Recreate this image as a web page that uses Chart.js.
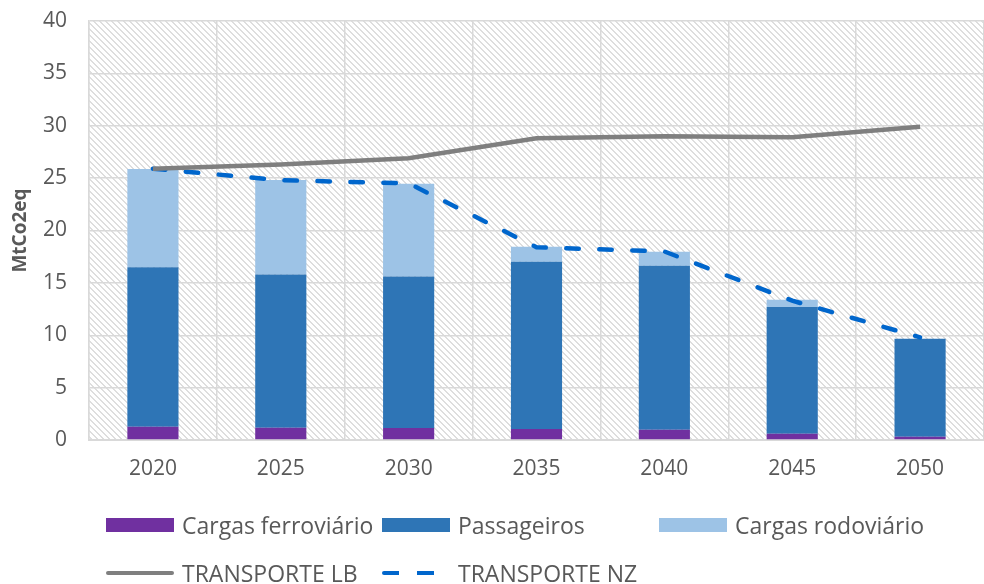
<!DOCTYPE html>
<html lang="pt">
<head>
  <meta charset="UTF-8">
  <title>Emissões transporte</title>
  <script src="https://cdn.jsdelivr.net/npm/chart.js"></script>
  <style>
    body {
      margin: 0;
      background: #ffffff;
      font-family: 'Open Sans', sans-serif;
    }
    .wrap {
      position: relative;
      width: 984px;
      height: 584px;
    }
    .legend {
      position: absolute;
      left: 106px;
      top: 506px;
      display: grid;
      grid-template-columns: 276px 277px 276px;
      row-gap: 10px;
      color: #595959;
      font-size: 23px;
    }
    .legend div {
      display: flex;
      align-items: center;
      height: 38px;
      white-space: nowrap;
    }
    .legend span.sw {
      display: inline-block;
      width: 68px;
      margin-right: 8px;
    }
  </style>
</head>
<body>
<div class="wrap">
  <canvas id="chart" width="984" height="584"></canvas>
  <div class="legend" id="legend"></div>
</div>
<script>
const years = ['2020', '2025', '2030', '2035', '2040', '2045', '2050'];

const cargasFerroviario = [1.27, 1.18, 1.15, 1.05, 0.99, 0.6, 0.3];
const passageiros = [15.21, 14.62, 14.45, 15.97, 15.65, 12.1, 9.37];
const cargasRodoviario = [9.39, 9.02, 8.87, 1.43, 1.34, 0.7, 0];
const transporteLB = [25.9, 26.3, 26.9, 28.8, 29.0, 28.9, 29.9];
const transporteNZ = [25.9, 24.8, 24.5, 18.4, 18.0, 13.3, 9.8];

const yTicks = { min: 0, max: 40, step: 5 };

// hatched background of the plot area
function makeHatch() {
  const c = document.createElement('canvas');
  c.width = 6;
  c.height = 6;
  const g = c.getContext('2d');
  g.fillStyle = '#ffffff';
  g.fillRect(0, 0, 6, 6);
  g.fillStyle = '#dedede';
  for (let y = 0; y < 6; y++) {
    for (let x = 0; x < 6; x++) {
      const d = ((x - y) % 6 + 6) % 6;
      if (d === 0 || d === 1) g.fillRect(x, y, 1, 1);
    }
  }
  return c;
}

const hatchPlugin = {
  id: 'hatch',
  beforeDraw(chart) {
    const { ctx, chartArea } = chart;
    ctx.save();
    ctx.fillStyle = ctx.createPattern(makeHatch(), 'repeat');
    ctx.fillRect(chartArea.left, chartArea.top, chartArea.right - chartArea.left, chartArea.bottom - chartArea.top);
    ctx.restore();
  }
};

const chart = new Chart(document.getElementById('chart'), {
  type: 'bar',
  plugins: [hatchPlugin],
  data: {
    labels: years,
    datasets: [
      {
        type: 'line',
        label: 'TRANSPORTE LB',
        data: transporteLB,
        stack: 'lb',
        order: 0,
        borderColor: '#7f7f7f',
        borderWidth: 4.5,
        pointRadius: 0,
        tension: 0,
        fill: false
      },
      {
        type: 'line',
        label: 'TRANSPORTE NZ',
        data: transporteNZ,
        stack: 'nz',
        order: 0,
        borderColor: '#0066cc',
        borderWidth: 4.5,
        borderDash: [12.5, 20.5],
        borderCapStyle: 'round',
        pointRadius: 0,
        tension: 0,
        fill: false
      },
      {
        label: 'Cargas ferroviário',
        data: cargasFerroviario,
        stack: 'bars',
        order: 1,
        backgroundColor: '#7030a0'
      },
      {
        label: 'Passageiros',
        data: passageiros,
        stack: 'bars',
        order: 1,
        backgroundColor: '#2e75b6'
      },
      {
        label: 'Cargas rodoviário',
        data: cargasRodoviario,
        stack: 'bars',
        order: 1,
        backgroundColor: '#9dc3e6'
      }
    ]
  },
  options: {
    responsive: false,
    animation: false,
    barPercentage: 0.4,
    categoryPercentage: 1,
    layout: {
      padding: { top: 21, right: 0, bottom: 94, left: 0 }
    },
    plugins: {
      legend: { display: false },
      tooltip: { enabled: false }
    },
    scales: {
      x: {
        stacked: true,
        afterFit(scale) { scale.height = 50; },
        grid: { color: '#d9d9d9', lineWidth: 1.5, drawTicks: false, offset: true },
        border: { color: '#d9d9d9', width: 2 },
        ticks: {
          color: '#595959',
          padding: 16,
          font: { family: 'Open Sans', size: 21 }
        }
      },
      y: {
        stacked: true,
        min: yTicks.min,
        max: yTicks.max,
        afterFit(scale) {
          scale.width = 89;
          scale.paddingTop = 0;
          scale.paddingBottom = 0;
        },
        grid: { color: '#d9d9d9', lineWidth: 1.5, drawTicks: false },
        border: { color: '#d9d9d9', width: 1.5 },
        ticks: {
          stepSize: yTicks.step,
          color: '#595959',
          padding: 22,
          font: { family: 'Open Sans', size: 21 }
        },
        title: {
          display: true,
          text: 'MtCo2eq',
          color: '#595959',
          padding: { top: 9, bottom: 0 },
          font: { family: 'Open Sans', size: 19, weight: 'bold' }
        }
      }
    }
  }
});

// legend in the same column grid as the original
const legendOrder = ['Cargas ferroviário', 'Passageiros', 'Cargas rodoviário', 'TRANSPORTE LB', 'TRANSPORTE NZ'];
const legendEl = document.getElementById('legend');
legendOrder.forEach(function (name) {
  const ds = chart.data.datasets.find(d => d.label === name);
  const item = document.createElement('div');
  const sw = document.createElement('span');
  sw.className = 'sw';
  if (ds.type === 'line') {
    sw.style.height = '4.5px';
    sw.style.borderRadius = '2px';
    if (ds.borderDash) {
      sw.style.background = 'repeating-linear-gradient(to right, ' + ds.borderColor + ' 0 17px, transparent 17px 35px)';
    } else {
      sw.style.background = ds.borderColor;
    }
  } else {
    sw.style.height = '14px';
    sw.style.background = ds.backgroundColor;
  }
  item.appendChild(sw);
  item.appendChild(document.createTextNode(name));
  legendEl.appendChild(item);
});
</script>
</body>
</html>
